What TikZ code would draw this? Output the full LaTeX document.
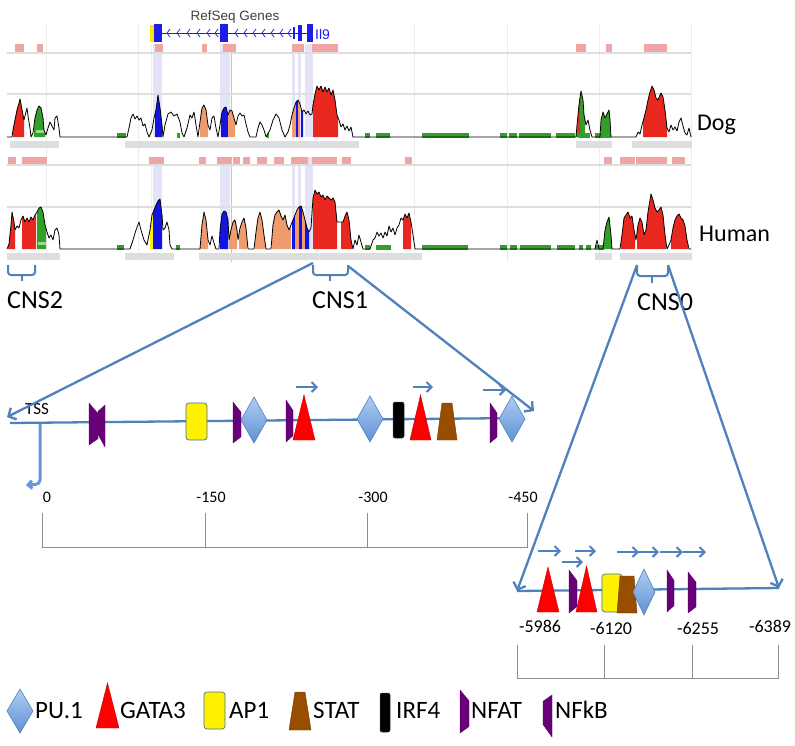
\documentclass[tikz,border=0pt]{standalone}
\usepackage{fontspec}
\setmainfont{Carlito}
\newfontfamily\arialf{Liberation Sans}
\usetikzlibrary{arrows.meta}
\definecolor{cblue}{RGB}{79,129,189}
\definecolor{pured}{RGB}{255,0,0}
\definecolor{vred}{RGB}{232,40,30}
\definecolor{vgreen}{RGB}{50,160,40}
\definecolor{vlgreen}{RGB}{150,220,140}
\definecolor{vblue}{RGB}{20,20,225}
\definecolor{vorange}{RGB}{240,155,110}
\definecolor{vpink}{RGB}{240,165,165}
\definecolor{vgray}{RGB}{222,222,222}
\definecolor{vgrid}{RGB}{236,236,236}
\definecolor{vlav}{RGB}{228,228,248}
\definecolor{vyel}{RGB}{250,245,150}
\definecolor{nfpur}{RGB}{104,0,120}
\definecolor{stbrown}{RGB}{153,77,0}
\definecolor{pulight}{RGB}{175,205,242}
\definecolor{pudark}{RGB}{95,145,212}
\definecolor{genblue}{RGB}{30,30,230}
\definecolor{tssblue}{RGB}{110,160,225}
\newcommand\regfill[5]{\begin{scope}\clip (#3,0) rectangle (#4,#5);\fill[#2] #1 -- cycle;\end{scope}}
\newcommand\shPU[4]{\path[pusty] (#1-#3,#2) -- (#1,#2-#4) -- (#1+#3,#2) -- (#1,#2+#4) -- cycle;}
\newcommand\shGA[4]{\path[gasty] (#1,#4) -- ({(#1+#2)/2},#3) -- (#2,#4) -- cycle;}
\newcommand\shAP[4]{\path[apsty] (#1,#2) rectangle (#3,#4);}
\newcommand\shST[5]{\path[ststy] (#1,#5) -- (#1+#3,#4) -- (#2-#3,#4) -- (#2,#5) -- cycle;}
\newcommand\shIR[4]{\path[irsty] (#1,#2) rectangle (#3,#4);}
\newcommand\shNA[4]{\path[nfsty] (#1,#3) -- (#2,{#3+0.25*(#4-#3)}) -- (#2,{#4-0.15*(#4-#3)}) -- (#1,#4) -- cycle;}
\newcommand\shNK[4]{\path[nfsty] (#1,{#3+0.15*(#4-#3)}) -- (#2,#3) -- (#2,#4) -- (#1,{#4-0.3*(#4-#3)}) -- cycle;}
\newcommand\sarr[3]{\draw[sarrow] (#1,#3) -- (#2,#3);}
\newcommand\chev[1]{\draw[genblue, line width=0.7pt] (#1+2,29) -- (#1-1,33) -- (#1+2,37);}
\tikzset{
  pusty/.style={top color=pulight, bottom color=pudark, draw=cblue, line width=0.6pt},
  gasty/.style={fill=pured, draw=red!75!black, line width=0.4pt},
  apsty/.style={fill=yellow, draw=cblue!85!black, line width=0.7pt, rounded corners=3pt},
  ststy/.style={fill=stbrown, draw=stbrown!75!black, line width=0.4pt},
  irsty/.style={fill=black, draw=cblue!50!black, line width=0.5pt, rounded corners=2pt},
  nfsty/.style={fill=nfpur, draw=nfpur!80!black, line width=0.3pt},
  sarrow/.style={draw=cblue, line width=2pt, -{Straight Barb[length=5pt,width=10pt]}},
  conn/.style={draw=cblue, line width=2.3pt, -{Straight Barb[length=6pt,width=13pt]}},
  brk/.style={draw=cblue, line width=2pt, rounded corners=3pt},
  ruler/.style={draw=black!45, line width=0.6pt},
  txt/.style={inner sep=0pt, anchor=base west},
  bigl/.style={txt, font=\fontsize{26}{30}\selectfont},
  spl/.style={txt, font=\fontsize{24}{28}\selectfont},
  legl/.style={txt, font=\fontsize{25}{29}\selectfont},
  scl/.style={inner sep=0pt, anchor=base, font=\fontsize{16}{19}\selectfont},
  scl0/.style={inner sep=0pt, anchor=base, font=\fontsize{18}{21}\selectfont},
  gridl/.style={draw=vgray, line width=1.2pt},
  vline/.style={draw=vgrid, line width=0.7pt},
  profile/.style={draw=black, line width=0.8pt, line join=round}
}
\begin{document}
\begin{tikzpicture}[x=1pt, y=-1pt]
\useasboundingbox (0,0) rectangle (795,745);
\fill[white] (0,0) rectangle (795,745);

% ---------------- profile data ----------------
\def\dogc{(7,137) -- (12,137) -- (13,130) -- (15,120) -- (17,110) -- (19,103) -- (20,99) -- (21,104) -- (23,115) -- (24,120) -- (26,112) -- (27,108) -- (28,116) -- (30,128) -- (31,137) -- (33,133) -- (35,118) -- (37,110) -- (39,106) -- (41,108) -- (43,118) -- (44,130) -- (46,135) -- (48,128) -- (50,122) -- (52,126) -- (54,130) -- (55,118) -- (57,116) -- (59,128) -- (60,137) -- (127,137) -- (129,128) -- (131,118) -- (133,114) -- (135,119) -- (137,116) -- (139,120) -- (141,118) -- (143,126) -- (145,124) -- (147,132) -- (149,137) -- (152,130) -- (154,118) -- (156,110) -- (158,95) -- (160,108) -- (162,125) -- (163,137) -- (165,125) -- (168,114) -- (171,112) -- (174,116) -- (177,114) -- (180,122) -- (182,133) -- (184,137) -- (187,128) -- (190,115) -- (192,118) -- (194,112) -- (196,125) -- (198,137) -- (200,122) -- (202,108) -- (204,105) -- (206,110) -- (208,125) -- (210,130) -- (212,118) -- (214,116) -- (216,128) -- (218,137) -- (220,125) -- (222,112) -- (224,108) -- (226,107) -- (228,115) -- (230,110) -- (232,111) -- (234,118) -- (236,125) -- (238,116) -- (240,113) -- (242,116) -- (244,115) -- (246,124) -- (248,132) -- (250,137) -- (256,137) -- (258,128) -- (260,122) -- (262,125) -- (264,130) -- (266,137) -- (270,130) -- (273,120) -- (276,114) -- (279,118) -- (282,130) -- (285,137) -- (288,132) -- (290,125) -- (292,115) -- (294,108) -- (296,102) -- (298,100) -- (300,104) -- (302,112) -- (304,110) -- (306,114) -- (308,111) -- (310,115) -- (312,114) -- (313,105) -- (315,94) -- (317,86) -- (319,90) -- (321,86) -- (323,92) -- (325,87) -- (327,92) -- (329,88) -- (331,95) -- (333,90) -- (335,100) -- (337,115) -- (339,120) -- (341,127) -- (343,124) -- (345,130) -- (347,126) -- (349,131) -- (351,127) -- (353,137) -- (576,137) -- (577,125) -- (579,105) -- (581,91) -- (583,100) -- (584,115) -- (586,125) -- (588,120) -- (590,130) -- (592,137) -- (600,137) -- (601,120) -- (603,112) -- (605,118) -- (607,114) -- (609,110) -- (610,120) -- (611,137) -- (636,137) -- (638,132) -- (640,134) -- (642,125) -- (644,118) -- (646,110) -- (648,100) -- (650,92) -- (652,86) -- (654,90) -- (656,98) -- (658,100) -- (660,95) -- (661,93) -- (663,97) -- (665,110) -- (667,128) -- (669,132) -- (671,125) -- (673,130) -- (675,127) -- (677,131) -- (679,122) -- (681,118) -- (683,126) -- (685,133) -- (687,135) -- (689,128) -- (691,137)}
\def\humc{(7,249) -- (9,244) -- (11,225) -- (12,212) -- (14,222) -- (15,230) -- (17,226) -- (19,228) -- (21,220) -- (23,216) -- (25,222) -- (27,218) -- (29,222) -- (31,217) -- (33,220) -- (35,215) -- (37,212) -- (39,208) -- (41,207) -- (43,212) -- (45,225) -- (47,232) -- (49,238) -- (51,235) -- (53,240) -- (55,230) -- (57,228) -- (59,235) -- (60,249) -- (130,249) -- (133,240) -- (136,230) -- (139,222) -- (141,230) -- (144,240) -- (147,245) -- (150,230) -- (152,215) -- (154,210) -- (156,205) -- (158,201) -- (160,199) -- (162,215) -- (163,230) -- (165,228) -- (167,222) -- (169,230) -- (170,245) -- (172,249) -- (200,249) -- (202,225) -- (204,212) -- (206,220) -- (208,240) -- (210,245) -- (212,236) -- (214,243) -- (216,249) -- (219,249) -- (220,230) -- (222,214) -- (224,211) -- (226,212) -- (228,220) -- (229,240) -- (231,230) -- (233,222) -- (235,220) -- (237,230) -- (238,240) -- (240,228) -- (242,222) -- (244,218) -- (246,228) -- (248,249) -- (254,249) -- (256,232) -- (258,218) -- (260,212) -- (262,220) -- (264,235) -- (266,249) -- (271,249) -- (273,225) -- (275,215) -- (277,212) -- (279,210) -- (281,216) -- (283,220) -- (285,215) -- (287,225) -- (289,230) -- (291,225) -- (293,220) -- (295,215) -- (297,210) -- (299,207) -- (301,206) -- (303,212) -- (305,220) -- (307,228) -- (309,232) -- (311,228) -- (313,198) -- (315,190) -- (317,194) -- (319,192) -- (321,197) -- (323,195) -- (325,200) -- (327,196) -- (329,198) -- (331,200) -- (333,198) -- (335,202) -- (337,222) -- (339,222) -- (341,222) -- (343,222) -- (345,216) -- (347,212) -- (349,220) -- (351,240) -- (353,249) -- (355,240) -- (357,245) -- (359,235) -- (361,242) -- (363,249) -- (370,249) -- (373,240) -- (375,238) -- (377,232) -- (379,236) -- (381,233) -- (383,238) -- (385,232) -- (387,236) -- (389,226) -- (391,232) -- (393,228) -- (395,235) -- (397,228) -- (399,225) -- (401,218) -- (403,220) -- (405,214) -- (407,218) -- (409,213) -- (411,222) -- (413,235) -- (415,249) -- (595,249) -- (597,240) -- (599,249) -- (603,249) -- (605,230) -- (607,222) -- (609,217) -- (611,235) -- (612,249) -- (620,249) -- (622,235) -- (624,218) -- (626,215) -- (628,212) -- (630,218) -- (632,216) -- (634,230) -- (636,240) -- (638,225) -- (640,218) -- (642,222) -- (644,235) -- (646,230) -- (648,212) -- (650,200) -- (651,194) -- (653,200) -- (655,208) -- (657,212) -- (659,210) -- (661,207) -- (663,215) -- (665,235) -- (667,249) -- (669,245) -- (671,240) -- (673,228) -- (675,220) -- (677,216) -- (679,214) -- (681,218) -- (683,220) -- (685,226) -- (687,240) -- (689,249) -- (691,249)}

% ---------------- gene model ----------------
\node[inner sep=0pt, anchor=base, font=\arialf\fontsize{13.5}{16}\selectfont, text=black!75] (tRef) at (235,20) {RefSeq Genes};
\draw[genblue, line width=0.8pt] (162,33) -- (313,33);
\foreach \cx in {168,178,188,198,208,216,236,245,254,263,272,281,289} {\chev{\cx}}
\fill[yellow!90!orange] (150,25) rectangle (154,42);
\fill[genblue] (154,24) rectangle (162,42);
\fill[genblue] (220,24) rectangle (228,42);
\fill[genblue] (293,27) rectangle (294.5,39);
\fill[genblue] (298,25) rectangle (302,41);
\fill[genblue] (307,24) rectangle (313,42);
\node[inner sep=0pt, anchor=base west, font=\arialf\fontsize{14}{16}\selectfont, text=genblue] (tIl9) at (315,39) {Il9};

% ---------------- vertical grid lines and bands ----------------
\foreach \vx in {46,138,414,507,599,691} {\draw[vline] (\vx,23) -- (\vx,150); \draw[vline] (\vx,150) -- (\vx,262);}
\foreach \ba/\bb in {153/162,220/230,292/295,298/301,305/313} {\fill[vlav] (\ba,44) rectangle (\bb,137); \fill[vlav] (\ba,157) rectangle (\bb,249);}
\draw[vyel, line width=1pt] (151.5,44) -- (151.5,137);
\draw[vyel, line width=1pt] (151.5,157) -- (151.5,249);
\draw[magenta!35, line width=0.6pt] (231,44) -- (231,137);
\draw[magenta!35, line width=0.6pt] (231,157) -- (231,262);

% ---------------- horizontal grid lines ----------------
\draw[gridl] (7,53) -- (691,53);
\draw[gridl] (7,94) -- (691,94);
\draw[gridl] (7,165) -- (691,165);
\draw[gridl] (7,207) -- (691,207);

% pink bars
\foreach \pa/\pb in {15/24,37/43,155/163,202/207,223/236,292/304,312/338,576/586,606/612,644/667} {\fill[vpink] (\pa,44) rectangle (\pb,52);}
\foreach \pa/\pb in {8/16,22/47,149/164,199/206,217/231,233/240,243/250,257/267,274/284,291/308,312/337,342/351,405/412,604/612,620/635,636/667,672/685} {\fill[vpink] (\pa,157) rectangle (\pb,164);}

% gray bars below baselines
\foreach \ga/\gb in {10/59,125/359,576/612,632/692} {\fill[vgray] (\ga,141) rectangle (\gb,148);}
\foreach \ga/\gb in {7/60,125/174,199/422,595/612,620/692} {\fill[vgray] (\ga,253) rectangle (\gb,260);}

% ---------------- dog coloured regions ----------------
\regfill{\dogc}{vred}{13}{24}{137}
\regfill{\dogc}{vgreen}{34}{45}{137}
\regfill{\dogc}{vblue}{155}{162}{137}
\regfill{\dogc}{vorange}{200}{208}{137}
\regfill{\dogc}{vblue}{221}{228}{137}
\regfill{\dogc}{vorange}{228}{235}{137}
\regfill{\dogc}{vorange}{292}{296}{137}
\regfill{\dogc}{vblue}{296}{298}{137}
\regfill{\dogc}{vorange}{298}{300}{137}
\regfill{\dogc}{vblue}{301}{303}{137}
\regfill{\dogc}{vred}{313}{338}{137}
\regfill{\dogc}{vgreen}{576}{585}{137}
\regfill{\dogc}{vred}{578}{580}{137}
\regfill{\dogc}{vgreen}{601}{611}{137}
\regfill{\dogc}{vred}{643}{667}{137}
\fill[vlgreen] (36,130) rectangle (44,133);
\foreach \ga/\gb in {117/126,177/180,267/269,365/370,376/390,422/469,500/507,509/517,519/551,556/575,578/590,595/611} {\fill[vgreen] (\ga,133) rectangle (\gb,138);}
\draw[profile] \dogc;

% ---------------- human coloured regions ----------------
\regfill{\humc}{vred}{8}{15}{249}
\regfill{\humc}{vred}{22}{36}{249}
\regfill{\humc}{vgreen}{37}{46}{249}
\regfill{\humc}{yellow}{150}{153}{249}
\regfill{\humc}{vblue}{153}{162}{249}
\regfill{\humc}{vorange}{200}{208}{249}
\regfill{\humc}{vblue}{220}{228}{249}
\regfill{\humc}{vorange}{229}{237}{249}
\regfill{\humc}{vorange}{239}{247}{249}
\regfill{\humc}{vorange}{255}{265}{249}
\regfill{\humc}{vorange}{272}{291}{249}
\regfill{\humc}{vblue}{292}{295}{249}
\regfill{\humc}{vorange}{295}{299}{249}
\regfill{\humc}{vblue}{299}{302}{249}
\regfill{\humc}{vorange}{302}{305}{249}
\regfill{\humc}{vblue}{305}{309}{249}
\regfill{\humc}{vred}{313}{337}{249}
\regfill{\humc}{vred}{341}{352}{249}
\regfill{\humc}{vred}{403}{411}{249}
\regfill{\humc}{vgreen}{604}{612}{249}
\regfill{\humc}{vred}{621}{635}{249}
\regfill{\humc}{vred}{637}{666}{249}
\regfill{\humc}{vred}{671}{688}{249}
\fill[vlgreen] (38,242) rectangle (46,245);
\foreach \ga/\gb in {117/124,176/180,365/370,376/391,422/468,500/507,510/517,520/551,557/575,579/583,586/591,595/604} {\fill[vgreen] (\ga,245) rectangle (\gb,250);}
\draw[profile] \humc;

% ---------------- species labels ----------------
\node[spl] (tDog) at (697,130) {Dog};
\node[spl] (tHuman) at (699,241) {Human};

% ---------------- CNS brackets ----------------
\draw[brk] (8,265) -- (8,275) -- (35,275) -- (35,265);
\draw[brk] (22,275) -- (22,281);
\draw[brk] (313,265) -- (313,275) -- (348,275) -- (348,265);
\draw[brk] (330,275) -- (330,281);
\draw[brk] (637,265) -- (637,276) -- (668,276) -- (668,265);
\draw[brk] (652,276) -- (652,283);
\node[bigl] (tCNS2) at (7,308) {CNS2};
\node[bigl] (tCNS1) at (312,308) {CNS1};
\node[bigl] (tCNS0) at (637,310) {CNS0};

% ---------------- CNS1 expansion ----------------
\coordinate (c1a) at (313,263);
\coordinate (c1b) at (348,266);
\coordinate (c1L) at (7,417);
\coordinate (c1R) at (534,411);
\coordinate (l1s) at (10,423);
\coordinate (l1e) at (520,418);
\draw[cblue, line width=2.3pt] (l1s) -- (l1e);
\node[inner sep=0pt, anchor=base west, font=\fontsize{17}{20}\selectfont] (tTSS) at (25,414) {TSS};
\coordinate (tssA) at (40,424);
\coordinate (tssB) at (40,484);
\coordinate (tssC) at (26,485);
\draw[tssblue!70!cblue, line width=3pt, rounded corners=4pt, -{Straight Barb[length=4pt,width=8pt]}] (tssA) -- (tssB) -- (tssC);

\shNA{89}{98}{403}{445}
\shNK{98}{105}{405}{447}
\shAP{186}{403}{207}{440}
\shNA{233}{241}{402}{443}
\shPU{254}{420}{13}{23}
\shNA{286}{293}{400}{442}
\shGA{293}{315}{395}{440}
\shPU{370}{419}{13}{23}
\shIR{393}{402}{404}{438}
\shGA{410}{431}{395}{440}
\shST{437}{457}{5}{403}{440}
\shNA{490}{497}{403}{443}
\shPU{512}{419}{13}{23}
\sarr{296}{318}{387}
\sarr{413}{433}{387}
\sarr{483}{506}{390}

\draw[conn] (c1a) -- (c1L);
\draw[conn] (c1b) -- (c1R);

% CNS1 ruler
\node[scl] (s0) at (47,502) {0};
\node[scl] (s150) at (211,502) {-150};
\node[scl] (s300) at (373,502) {-300};
\node[scl] (s450) at (523,502) {-450};
\draw[ruler] (42,513) -- (42,547) -- (527,547) -- (527,513);
\draw[ruler] (205,513) -- (205,547);
\draw[ruler] (367,513) -- (367,547);

% ---------------- CNS0 expansion ----------------
\coordinate (c0a) at (637,265);
\coordinate (c0b) at (668,265);
\coordinate (c0L) at (517,591);
\coordinate (c0R) at (779,588);
\draw[cblue, line width=2.3pt] (c0L) -- (c0R);
\shGA{537}{559}{567}{612}
\shNA{569}{577}{570}{613}
\shGA{576}{597}{566}{612}
\shAP{602}{574}{622}{612}
\shST{617}{637}{3}{576}{613}
\shPU{644}{592}{11}{23}
\shNA{667}{674}{570}{612}
\shNA{688}{696}{572}{613}
\sarr{538}{561}{551}
\sarr{562}{583}{562}
\sarr{575}{596}{551}
\sarr{617}{639}{552}
\sarr{637}{659}{552}
\sarr{660}{683}{552}
\sarr{683}{706}{552}
\draw[conn] (c0a) -- (c0L);
\draw[conn] (c0b) -- (c0R);

% CNS0 ruler
\node[scl0] (s5986) at (540,632) {-5986};
\node[scl0] (s6120) at (611,634) {-6120};
\node[scl0] (s6255) at (698,634) {-6255};
\node[scl0] (s6389) at (770,632) {-6389};
\draw[ruler] (517,645) -- (517,678) -- (778,678) -- (778,645);
\draw[ruler] (604,645) -- (604,678);
\draw[ruler] (692,645) -- (692,678);

% ---------------- legend ----------------
\shPU{20}{711}{13}{22}
\node[legl] (lPU) at (35,718) {PU.1};
\shGA{96}{119}{683}{728}
\node[legl] (lGA) at (120,718) {GATA3};
\shAP{204}{692}{225}{729}
\node[legl] (lAP) at (229,718) {AP1};
\shST{289}{311}{6}{692}{730}
\node[legl] (lST) at (313,718) {STAT};
\shIR{380}{693}{390}{732}
\node[legl] (lIR) at (396,718) {IRF4};
\shNA{460}{469}{690}{733}
\node[legl] (lNA) at (471,718) {NFAT};
\shNK{543}{552}{695}{737}
\node[legl] (lNK) at (555,718) {NFkB};
\end{tikzpicture}
\end{document}
